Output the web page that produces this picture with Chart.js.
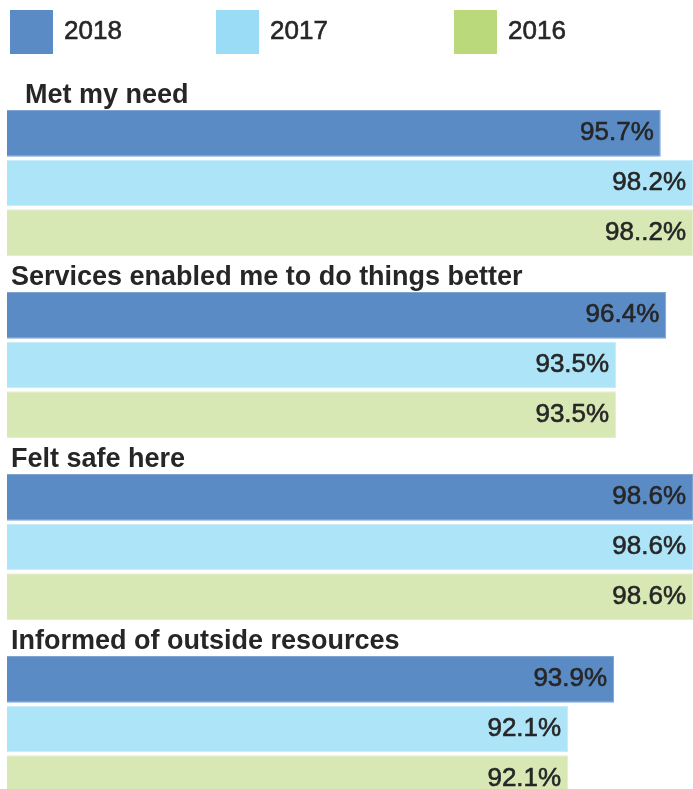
<!DOCTYPE html>
<html>
<head>
<meta charset="utf-8">
<script src="https://cdn.jsdelivr.net/npm/chart.js@4.4.0/dist/chart.umd.min.js"></script>
<style>
  html, body { margin: 0; padding: 0; background: #fff; overflow: hidden; }
  #wrap { width: 693px; height: 820px; }
</style>
</head>
<body>
<div id="wrap"><canvas id="chart" width="693" height="820"></canvas></div>
<script>
const categories = ['Met my need', 'Services enabled me to do things better', 'Felt safe here', 'Informed of outside resources'];
const years = ['2018', '2017', '2016'];

// percentages as printed on the bars (the 2016 typo is in the original)
const text2018 = ['95.7%', '96.4%', '98.6%', '93.9%'];
const text2017 = ['98.2%', '93.5%', '98.6%', '92.1%'];
const text2016 = ['98..2%', '93.5%', '98.6%', '92.1%'];

// bar lengths as drawn in the picture (share of the full width, not the printed value)
const bars2018 = [95.3, 96.1, 100, 88.5];
const bars2017 = [100, 88.8, 100, 81.8];
const bars2016 = [100, 88.8, 100, 81.8];

const barColors = ['#5b8bc4', '#aee4f8', '#d8e8b5'];
const barEdges = ['#7fa4d2', '#c4ecfa', '#e4efcb'];
const legendColors = ['#5b8bc4', '#9adcf5', '#b9d97a'];

const textColor = '#262626';
const titleFont = 'bold 27px "Liberation Sans", Arial, sans-serif';
const valueFont = '26px "Liberation Sans", Arial, sans-serif';

// hand-drawn legend, spacing as in the picture
const legendX = [10, 216, 454];
const titleIndent = [14, 0, 0, 0];

// slightly heavier than the plain regular weight
function heavyText(c, s, x, y) {
    c.fillText(s, x, y);
    c.strokeText(s, x, y);
}

const topLegend = {
    id: 'topLegend',
    afterDraw(chart) {
        const c = chart.ctx;
        c.save();
        c.font = valueFont;
        c.textBaseline = 'middle';
        c.textAlign = 'left';
        c.strokeStyle = textColor;
        c.lineWidth = 0.6;
        years.forEach((y, i) => {
            c.fillStyle = legendColors[i];
            c.fillRect(legendX[i], 10, 43, 44);
            c.fillStyle = textColor;
            heavyText(c, y, legendX[i] + 54, 32);
        });
        c.restore();
    }
};

const groupTitles = {
    id: 'groupTitles',
    afterDatasetsDraw(chart) {
        const c = chart.ctx;
        const meta = chart.getDatasetMeta(0);
        c.save();
        c.font = titleFont;
        c.fillStyle = textColor;
        c.textBaseline = 'alphabetic';
        c.textAlign = 'left';
        meta.data.forEach((el, i) => {
            const p = el.getProps(['y', 'height'], true);
            c.fillText(categories[i], chart.chartArea.left + 4 + titleIndent[i], p.y - p.height / 2 - 7);
        });
        c.restore();
    }
};

const barText = {
    id: 'barText',
    afterDatasetsDraw(chart) {
        const c = chart.ctx;
        c.save();
        c.font = valueFont;
        c.fillStyle = textColor;
        c.strokeStyle = textColor;
        c.lineWidth = 0.6;
        c.textBaseline = 'middle';
        c.textAlign = 'right';
        chart.data.datasets.forEach((ds, d) => {
            chart.getDatasetMeta(d).data.forEach((el, i) => {
                const p = el.getProps(['x', 'y'], true);
                heavyText(c, ds.valueText[i], p.x - 7, p.y);
            });
        });
        c.restore();
    }
};

function makeSet(i, data, text) {
    return {
        label: years[i],
        data: data,
        valueText: text,
        backgroundColor: barColors[i],
        borderColor: barEdges[i],
        borderWidth: 1,
        categoryPercentage: 0.819,
        barPercentage: 0.939
    };
}

const chart = new Chart(document.getElementById('chart'), {
    type: 'bar',
    data: {
        labels: categories,
        datasets: [
            makeSet(0, bars2018, text2018),
            makeSet(1, bars2017, text2017),
            makeSet(2, bars2016, text2016)
        ]
    },
    options: {
        indexAxis: 'y',
        responsive: false,
        animation: false,
        layout: { padding: { left: 7, right: 0, top: 92, bottom: 0 } },
        scales: {
            x: { display: false, min: 0, max: 100 },
            y: { display: false }
        },
        plugins: {
            legend: { display: false },
            tooltip: { enabled: false }
        }
    },
    plugins: [topLegend, groupTitles, barText]
});
</script>
</body>
</html>
